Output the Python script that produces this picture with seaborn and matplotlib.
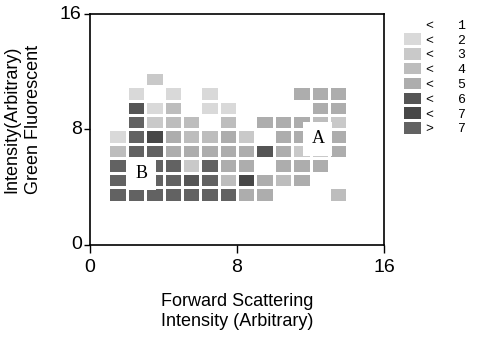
import numpy as np
import pandas as pd
import matplotlib
matplotlib.use("Agg")
import matplotlib.pyplot as plt
from matplotlib.colors import ListedColormap
from matplotlib.patches import Patch
import seaborn as sns

# ---- data: level class of each 1x1 bin (None = empty), columns u = 0..15 ----
row_v11 = [None, None, None, 2, None, None, None, None, None, None, None, None, None, None, None, None]
row_v10 = [None, None, 1, None, 1, None, 1, None, None, None, None, 4, 4, 4, None, None]
row_v9  = [None, None, 5, 1, 3, None, 1, 1, None, None, None, None, 4, 4, None, None]
row_v8  = [None, None, 7, 2, 3, 3, None, 3, None, 4, 4, 4, 3, 2, None, None]
row_v7  = [None, 1, 7, 6, 4, 3, 3, 4, 2, None, 4, 4, None, 4, None, None]
row_v6  = [None, 3, 7, 7, 4, 4, 4, 4, 4, 5, 4, 2, 2, 4, None, None]
row_v5  = [None, 7, 7, 7, 7, 2, 7, 4, 4, None, 4, 4, 4, None, None, None]
row_v4  = [None, 7, 7, 7, 7, 5, 7, 3, 6, 4, 3, 4, None, None, None, None]
row_v3  = [None, 7, 7, 7, 7, 7, 7, 7, 4, 4, None, None, None, 3, None, None]
row_start = 3

legend_signs = ["<", "<", "<", "<", "<", "<", "<", ">"]
legend_values = [1, 2, 3, 4, 5, 6, 7, 7]
level_colors = ["#ffffff", "#d9d9d9", "#c9c9c9", "#bdbdbd", "#adadad",
                "#555555", "#474747", "#626262"]

x_ticks = [0, 8, 16]
y_ticks = [0, 8, 16]
x_label = "Forward Scattering\nIntensity (Arbitrary)"
y_label = "Intensity(Arbitrary)\nGreen Fluorescent"
region_labels = ["A", "B"]
region_pos = [(12.4, 7.35), (2.8, 4.95)]

# ---- build 16x16 matrix (row index = y bin) ----
rows = [row_v3, row_v4, row_v5, row_v6, row_v7, row_v8, row_v9, row_v10, row_v11]
mat = np.full((16, 16), np.nan)
for i, r in enumerate(rows):
    for u, val in enumerate(r):
        if val is not None:
            mat[row_start + i, u] = val
df = pd.DataFrame(mat)

fig = plt.figure(figsize=(4.85, 3.39), dpi=100)
ax = fig.add_axes([0.1856, 0.2773, 0.6062, 0.6814])

cmap = ListedColormap(level_colors)
sns.heatmap(df, ax=ax, cmap=cmap, vmin=-0.5, vmax=7.5, cbar=False,
            linewidths=0.9, linecolor="white", square=False)
ax.set_xlim(0, 16)
ax.set_ylim(0, 16)

for s in ax.spines.values():
    s.set_visible(True)
    s.set_color("black")
    s.set_linewidth(1.2)

tick_font = dict(family="Liberation Sans", size=14)
ax.set_xticks(x_ticks)
ax.set_xticklabels([str(t) for t in x_ticks], fontdict=tick_font, rotation=0)
ax.set_yticks(y_ticks)
ax.set_yticklabels([str(t) for t in y_ticks], fontdict=tick_font, rotation=0)
ax.tick_params(axis="x", direction="out", length=6, width=1, pad=4)
ax.tick_params(axis="y", direction="out", length=4, width=1, pad=2)

ax.set_xlabel(x_label, family="Liberation Sans", fontsize=13, labelpad=12,
              linespacing=1.3)
ax.set_ylabel(y_label, family="Liberation Sans", fontsize=13,
              linespacing=1.3)
ax.yaxis.set_label_coords(-0.165, 0.545)

for lab, (lx, ly) in zip(region_labels, region_pos):
    ax.text(lx, ly, lab, family="Liberation Serif", fontsize=13,
            ha="center", va="center",
            bbox=dict(boxstyle="square,pad=0.45", fc="white", ec="none"))

handles = []
labels = []
for i, (sg, v) in enumerate(zip(legend_signs, legend_values)):
    handles.append(Patch(facecolor=level_colors[i], edgecolor="none"))
    labels.append(f"{sg}   {v}")
fig.legend(handles, labels, loc="upper left",
           bbox_to_anchor=(397 / 485, 1 - 12 / 339), frameon=False,
           handlelength=1.3, handleheight=0.95, handletextpad=0.4,
           labelspacing=0.12, borderpad=0,
           prop={"family": "Liberation Mono", "size": 9.5})

fig.savefig("out.png", dpi=100)
